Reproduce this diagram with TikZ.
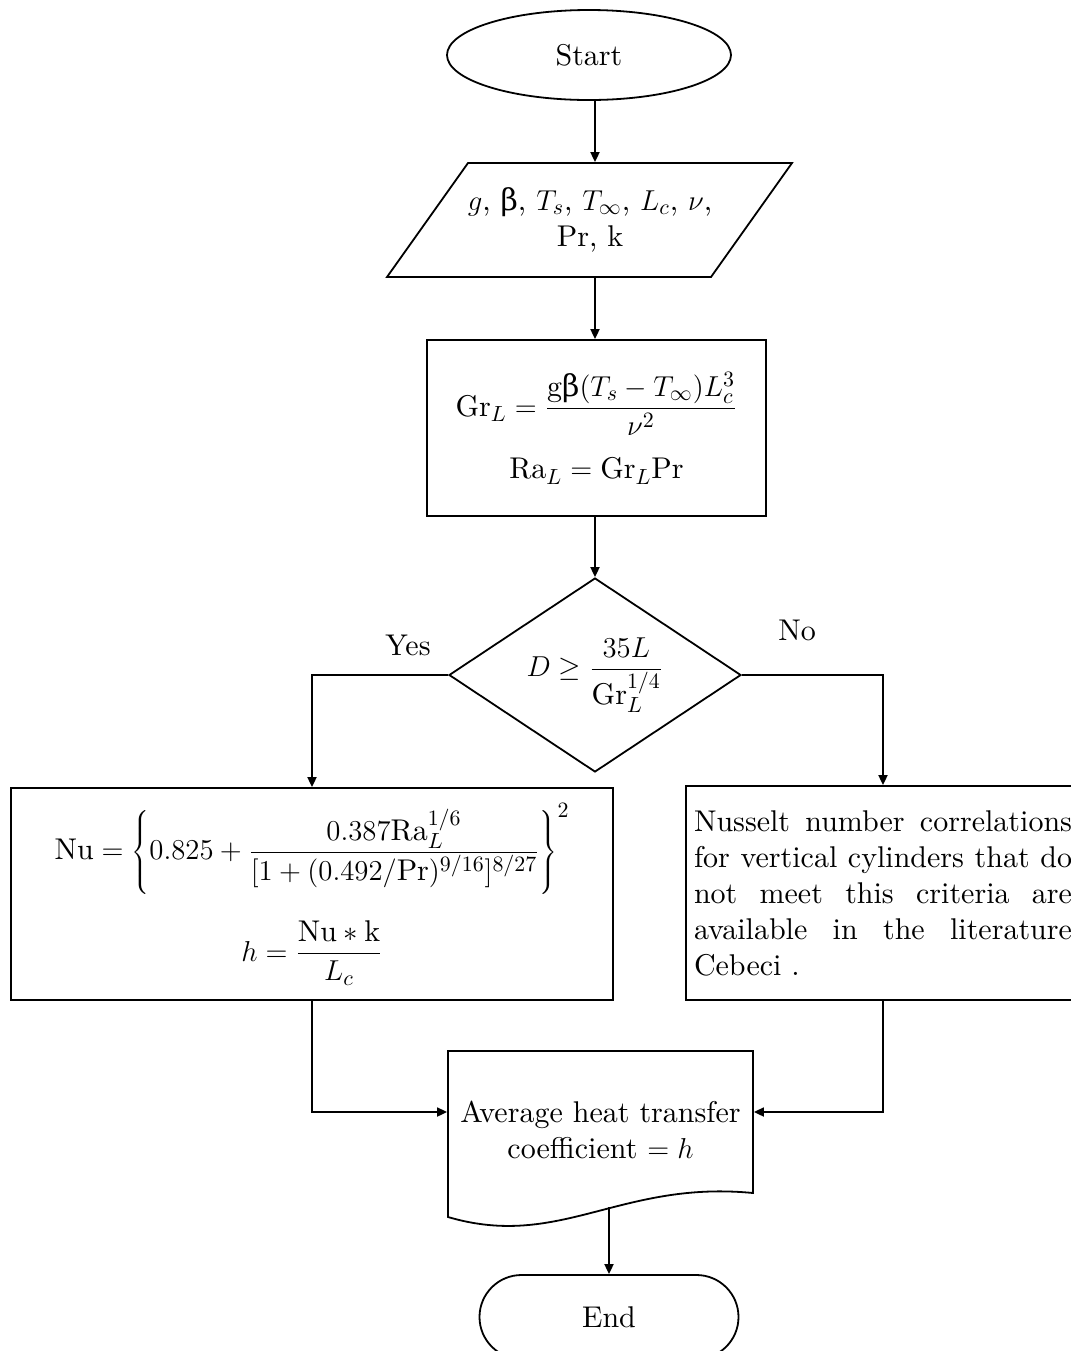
\documentclass[tikz,border=0pt]{standalone}
\usepackage{fontspec}
\setmainfont{lmroman10}[Extension=.otf,UprightFont=*-regular,ItalicFont=*-italic,BoldFont=*-bold]
\newfontfamily\grk{DejaVu Serif}
\usetikzlibrary{shapes.geometric,arrows.meta,calc}
\begin{document}
\begin{tikzpicture}[x=0.5pt,y=-0.5pt,line width=0.9pt,
  every node/.style={font=\fontsize{15}{18}\selectfont},
  arr/.style={-{Triangle[length=5pt,width=4.5pt]}},
  box/.style={draw,rectangle,align=center}]
\useasboundingbox (0,0) rectangle (1071,1351);
% Shapes
\node[draw,ellipse,minimum width=142pt,minimum height=45pt] (start) at (589,55) {Start};
\node[minimum height=57pt,align=center] (input) at (590,220)
  {$g$, {\grk β}, $T_s$, $T_\infty$, $L_c$, $\nu$,\\ Pr, k};
\draw (468,163) -- (792,163) -- (711,277) -- (387,277) -- cycle;
\node[box,minimum width=169.5pt,minimum height=88pt] (gr) at (596.5,428)
  {$\displaystyle \mathrm{Gr}_L=\frac{\mathrm{g}\mbox{\grk β}(T_s-T_\infty)L_c^3}{\nu^2}$\\[10pt]
   $\mathrm{Ra}_L=\mathrm{Gr}_L\mathrm{Pr}$};
\node[draw,diamond,shape aspect=1.5,minimum width=146pt,minimum height=97pt,inner sep=0pt] (dec) at (595,675)
  {$\displaystyle D\geq\frac{35L}{\mathrm{Gr}_L^{1/4}}$};
\node (yes) at (408,645) {Yes};
\node (no) at (797,630) {No};
\node[box,minimum width=301pt,minimum height=106pt] (nu) at (312,894)
  {$\displaystyle \mathrm{Nu}=\left\{0.825+\frac{0.387\mathrm{Ra}_L^{1/6}}{[1+(0.492/\mathrm{Pr})^{9/16}]^{8/27}}\right\}^2$\\[12pt]
   $\displaystyle h=\frac{\mathrm{Nu}*\mathrm{k}}{L_c}$};
\node[draw,rectangle,text width=189pt,align=justify,inner xsep=4pt,minimum height=107pt] (lit) at (883,893)
  {Nusselt number correlations\linebreak for vertical cylinders that do\linebreak
   not meet this criteria are\linebreak available in the literature\linebreak Cebeci .};
% Document
\draw (448,1051) -- (753,1051) -- (753,1193) .. controls (620,1180) and (560,1250) .. (448,1217) -- cycle;
\node[minimum width=152.5pt,align=center] (avg) at (600.5,1130) {Average heat transfer\\ coefficient $=h$};
\coordinate (avgout) at (609,1207);
\node[draw,rectangle,rounded corners=21pt,minimum width=129.5pt,minimum height=42pt] (end) at (609,1317) {End};
% Arrows
\draw[arr] (start.south -| dec) -- (input.north -| dec);
\draw[arr] (input.south -| dec) -- (gr.north -| dec);
\draw[arr] (gr.south -| dec) -- (dec);
\draw[arr] (dec.west) -| (nu.north);
\draw[arr] (dec.east) -| (lit.north);
\draw[arr] (nu.south) |- ($(avg.west)+(0,-18)$);
\draw[arr] (lit.south) |- ($(avg.east)+(0,-18)$);
\draw[arr] (avgout) -- (end);
\end{tikzpicture}
\end{document}
